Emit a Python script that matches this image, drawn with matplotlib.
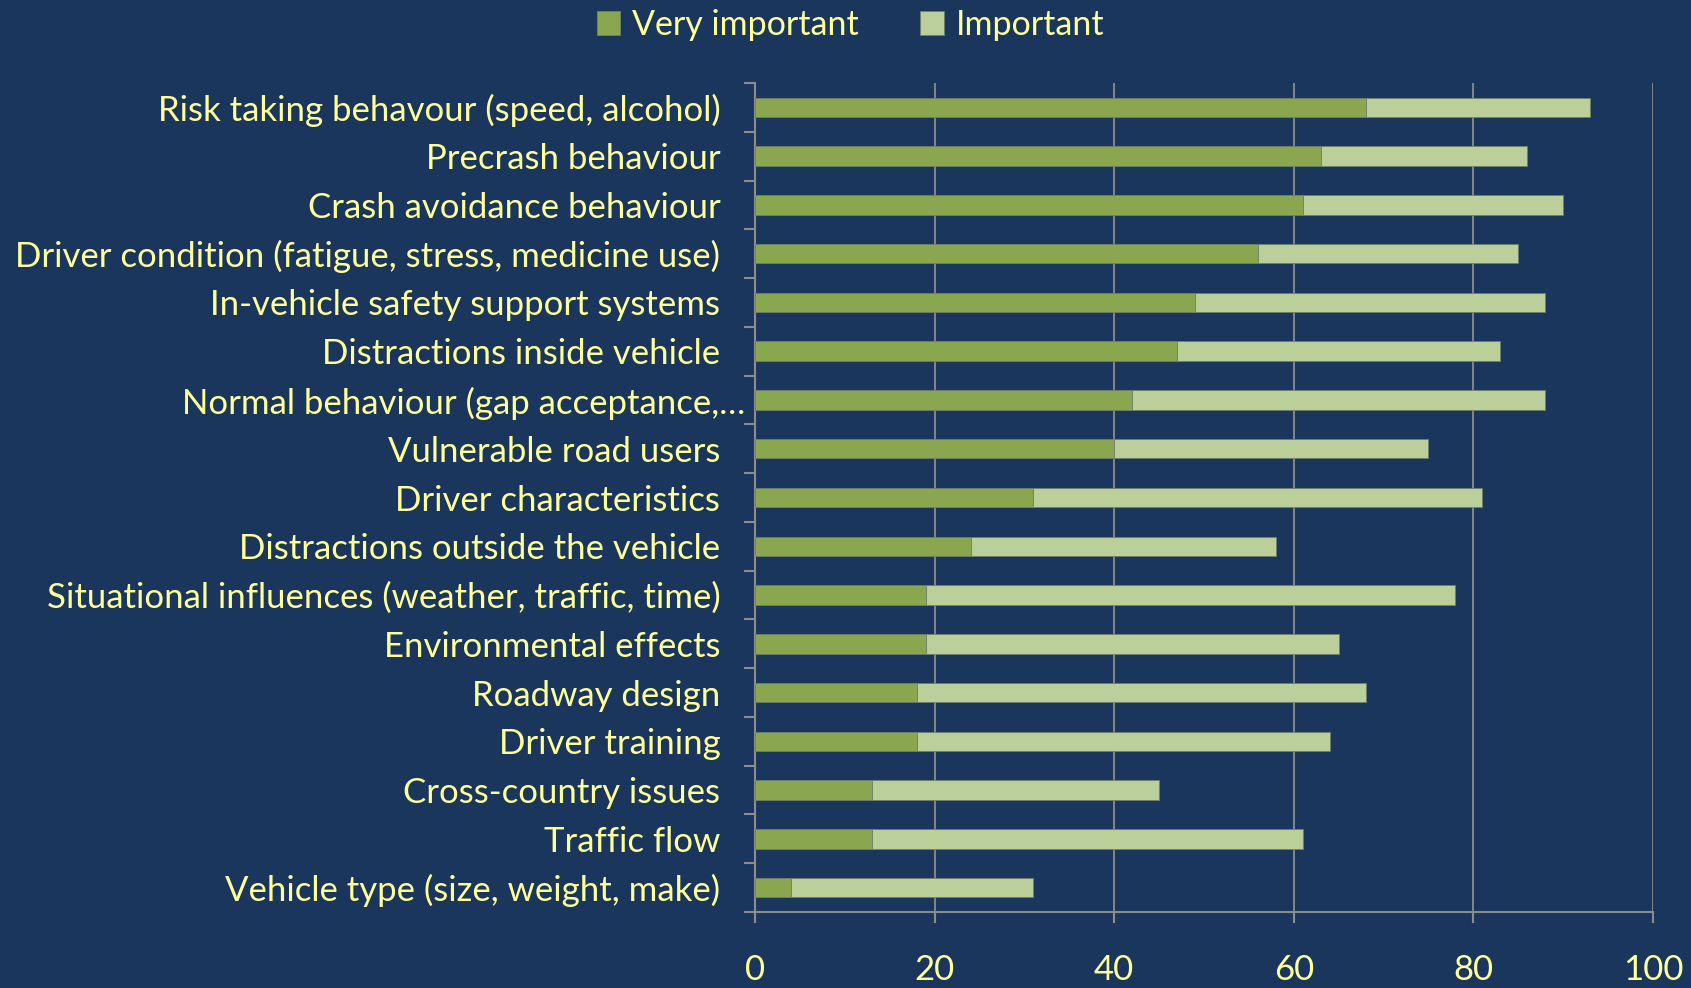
import numpy as np
import matplotlib.pyplot as plt
import matplotlib.transforms as mtransforms

# categories, top to bottom
categories = [
    'Risk taking behavour (speed, alcohol)',
    'Precrash behaviour',
    'Crash avoidance behaviour',
    'Driver condition (fatigue, stress, medicine use)',
    'In-vehicle safety support systems',
    'Distractions inside vehicle',
    'Normal behaviour (gap acceptance,\u2026',
    'Vulnerable road users',
    'Driver characteristics',
    'Distractions outside the vehicle',
    'Situational influences (weather, traffic, time)',
    'Environmental effects',
    'Roadway design',
    'Driver training',
    'Cross-country issues',
    'Traffic flow',
    'Vehicle type (size, weight, make)',
]
very_important = [68, 63, 61, 56, 49, 47, 42, 40, 31, 24, 19, 19, 18, 18, 13, 13, 4]
important = [25, 23, 29, 29, 39, 36, 46, 35, 50, 34, 59, 46, 50, 46, 32, 48, 27]
x_ticks = [0, 20, 40, 60, 80, 100]

bg = '#1b365d'
txt = '#ffff99'
dark = '#8aa64e'
light = '#bacf99'
grid = '#8c8c8c'

plt.rcParams['font.family'] = ['Lato', 'DejaVu Sans']

fig = plt.figure(figsize=(16.91, 9.88), dpi=100, facecolor=bg)
ax = fig.add_axes([0.4465, 0.0769, 0.531, 0.8391], facecolor=bg)

y = np.arange(len(categories))
ax.barh(y, very_important, height=0.4, color=dark, edgecolor='#6f7f6a',
        linewidth=0.6, label='Very important', zorder=3)
ax.barh(y, important, left=very_important, height=0.4, color=light,
        edgecolor='#6f7f6a', linewidth=0.6, label='Important', zorder=3)

ax.set_xlim(0, 100)
ax.set_ylim(len(categories) - 0.5, -0.5)
ax.set_xticks(x_ticks)
ax.set_xticklabels([str(v) for v in x_ticks])
ax.set_yticks(y)
ax.set_yticklabels(categories)
ax.set_yticks(np.arange(len(categories) + 1) - 0.5, minor=True)

ax.xaxis.grid(True, color=grid, linewidth=1.3, zorder=0)
for s in ['top', 'right']:
    ax.spines[s].set_visible(False)
for s in ['left', 'bottom']:
    ax.spines[s].set_color(grid)
    ax.spines[s].set_linewidth(1.5)

ax.tick_params(axis='y', which='major', length=0, pad=25, labelsize=25, labelcolor=txt)
ax.tick_params(axis='y', which='minor', length=8, width=1.5, color=grid)
ax.tick_params(axis='x', length=8, width=1.5, color=grid, pad=22,
               labelsize=25, labelcolor=txt)

# the truncated label sits further right
lbl = ax.get_yticklabels()[6]
lbl.set_transform(lbl.get_transform() +
                  mtransforms.ScaledTranslation(25 / 100, 0, fig.dpi_scale_trans))

fig.legend(loc='upper center', bbox_to_anchor=(0.503, 1.022), ncol=2, frameon=False,
           fontsize=24.5, labelcolor=txt, handlelength=0.7, handleheight=0.7,
           handletextpad=0.35, columnspacing=1.8)

fig.savefig('out.png', dpi=100, facecolor=bg)
